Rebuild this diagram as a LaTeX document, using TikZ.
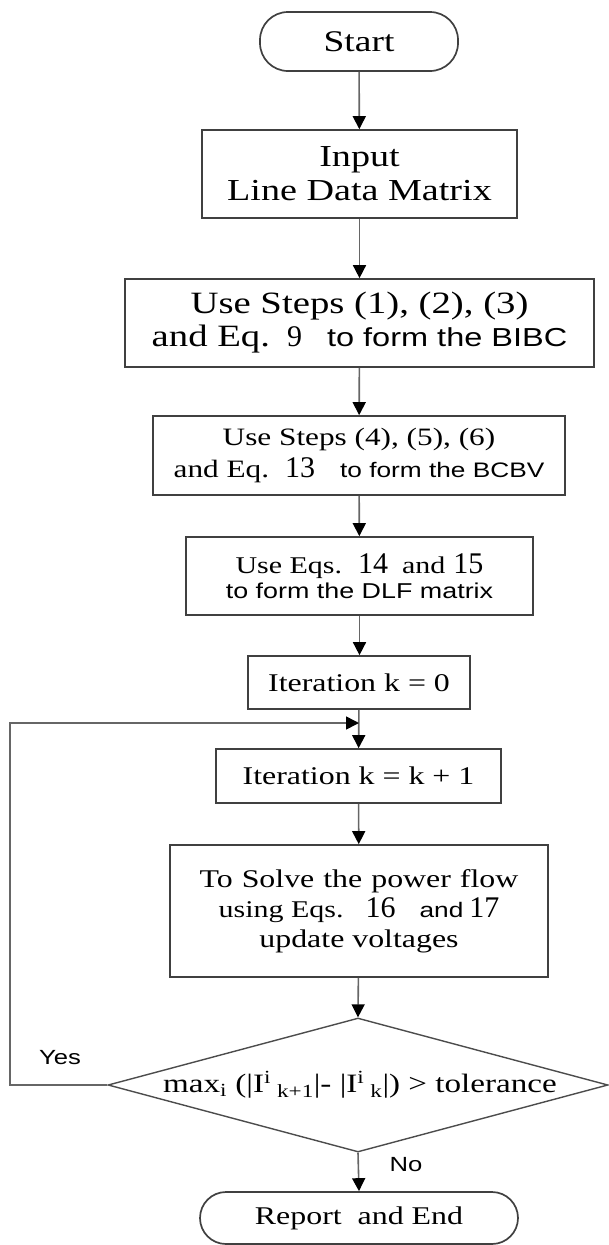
\documentclass[tikz,border=0pt]{standalone}
\usepackage{fontspec}
\setmainfont[FakeStretch=1.25]{Liberation Serif}
\newfontfamily\arialx[FakeStretch=1.25]{Liberation Sans}
\newfontfamily\numf{Liberation Serif}
\usetikzlibrary{arrows.meta,shapes.geometric}
\newcommand\fsz[2]{\fontsize{#1}{#2}\selectfont}
\newcommand\nm[1]{{\numf\fsz{30}{30}#1}}
\tikzset{
  box/.style={draw=black!75, line width=1.7pt, rectangle, inner sep=0pt, align=center},
  term/.style={box, rounded corners=28pt},
  arr/.style={draw=black!60, line width=1.6pt, -{Triangle[length=13pt,width=13pt,fill=black,color=black]}},
  dia/.style={diamond, draw=black!70, line width=1.4pt, inner sep=0pt, minimum width=500pt, minimum height=134pt},
  lbl/.style={inner sep=0pt, font=\arialx\fsz{20.5}{24}}
}
\begin{document}
\begin{tikzpicture}[x=1pt,y=-1pt]
\useasboundingbox (0,0) rectangle (609,1245);
\node[term, minimum width=198pt, minimum height=59pt, font=\fsz{30}{36}] (start) at (359,41.5) {Start};
\node[box, minimum width=315pt, minimum height=88pt, font=\fsz{30.5}{34}] (input) at (359.5,174) {Input\\Line Data Matrix};
\node[box, minimum width=469pt, minimum height=88pt, font=\fsz{31}{33}] (bibc) at (359.5,323)
  {Use Steps (1), (2), (3)\\and Eq.\hspace{17pt}\nm{9}\hspace{25pt}{\arialx\fsz{26}{33}to form the BIBC}};
\node[box, minimum width=412pt, minimum height=79pt, font=\fsz{25}{32}] (bcbv) at (359,455.5)
  {Use Steps (4), (5), (6)\\and Eq.\hspace{16pt}\nm{13}\hspace{25pt}{\arialx\fsz{21}{32}to form the BCBV}};
\node[box, minimum width=347pt, minimum height=78pt, font=\fsz{24}{25}] (dlf) at (359.5,576)
  {Use Eqs.\hspace{16pt}\nm{14}\hspace{14pt}and\hspace{8pt}\nm{15}\\{\arialx\fsz{21.5}{25}to form the DLF matrix}};
\node[box, minimum width=222pt, minimum height=53pt, font=\fsz{25.5}{30}] (it0) at (359,682.5) {Iteration k = 0};
\node[box, minimum width=285pt, minimum height=54pt, font=\fsz{25.5}{30}] (it1) at (358.5,776) {Iteration k = k + 1};
\node[box, minimum width=378pt, minimum height=132pt, font=\fsz{25.5}{30}] (solve) at (359,911)
  {To\hspace{9pt}Solve\hspace{9pt}the\hspace{9pt}power\hspace{9pt}flow\\{\fsz{24}{30}using Eqs.}\hspace{22pt}\nm{16}\hspace{24pt}{\arialx\fsz{21}{30}and}\hspace{6pt}\nm{17}\hspace{10pt}\\update voltages};
\node[dia] (dec) at (358,1085) {};
\node[inner sep=0pt, font=\fsz{26.5}{30}] (dectxt) at (360,1085)
  {max\textsubscript{i} (|I\textsuperscript{i}\hspace{6pt}\textsubscript{k+1}|- |I\textsuperscript{i}\hspace{6pt}\textsubscript{k}|) > tolerance};
\node[term, rounded corners=26pt, minimum width=318pt, minimum height=52pt, font=\fsz{25.5}{30}] (report) at (359,1218) {Report\ \ and End};
\node[lbl] (yes) at (60,1058) {Yes};
\node[lbl] (no) at (406,1165) {No};
\coordinate (join) at (359,723);
\coordinate (lc) at (10,723);
\draw[arr] (start) -- (input);
\draw[arr] (input) -- (bibc);
\draw[arr] (bibc) -- (bcbv);
\draw[arr] (bcbv) -- (dlf);
\draw[arr] (dlf) -- (dlf.south |- it0.north);
\draw[arr] (it0) -- (it1);
\draw[arr] (it1) -- (solve);
\draw[arr] (solve) -- (dec.north);
\draw[arr] (dec.south) -- (report.north);
\draw[arr] (dec.west) -| (lc) -- (join);
\end{tikzpicture}
\end{document}
